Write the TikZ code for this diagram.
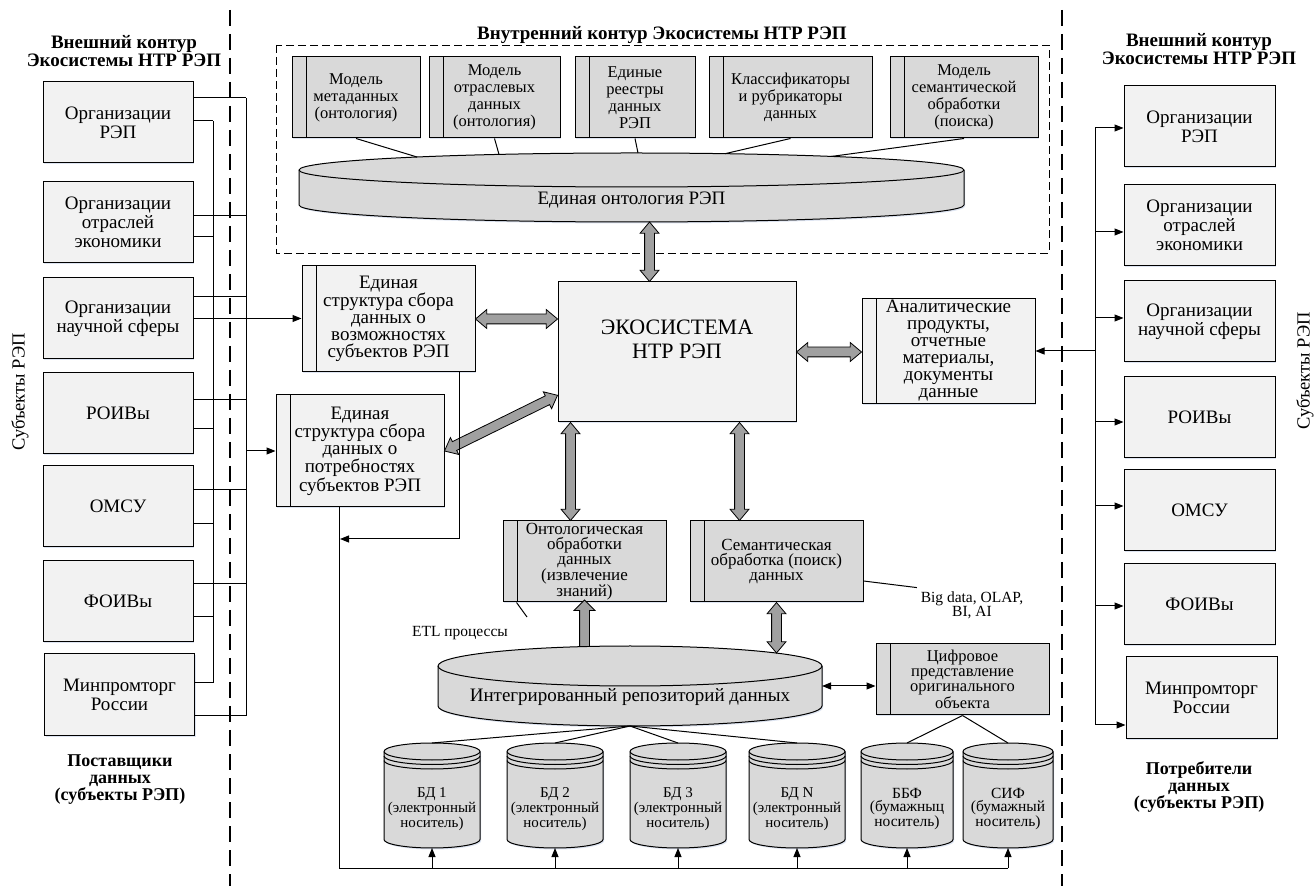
\documentclass[tikz,border=0pt]{standalone}
\usepackage{fontspec}
\setmainfont{Liberation Serif}
\usepackage{tikz}
\usetikzlibrary{arrows.meta}
\usetikzlibrary{calc}
\usetikzlibrary{shapes.arrows}
\usetikzlibrary{shadows}
\usetikzlibrary{backgrounds}
\definecolor{boxlight}{RGB}{242,242,242}
\definecolor{boxdark}{RGB}{217,217,217}
\definecolor{arrowfill}{RGB}{160,160,160}
\definecolor{glow}{RGB}{160,180,215}

\begin{document}
\begin{tikzpicture}[x=1pt,y=1pt,>={Triangle[length=9pt,width=7pt]},line width=1pt]
		\tikzstyle{shadowed}=[drop shadow={shadow xshift=1.2pt,shadow yshift=-1.5pt,opacity=.35,fill=glow}];
		\tikzstyle{subj}=[rectangle,draw,fill=boxlight,shadowed,minimum width=150pt,minimum height=81pt,
			inner sep=2pt,align=center,font=\fontsize{19}{19}\selectfont];
		\tikzstyle{striped}=[path picture={\draw[line width=1pt]([xshift=14pt]path picture bounding box.north west)--([xshift=14pt]path picture bounding box.south west);}];
		\tikzstyle{lightbox}=[rectangle,draw,fill=boxlight,shadowed,striped,inner sep=1pt,align=center,font=\fontsize{19}{17}\selectfont];
		\tikzstyle{darkbox}=[rectangle,draw,fill=boxdark,shadowed,striped,inner sep=1pt,align=center,font=\fontsize{17}{15}\selectfont];
		\tikzstyle{modelbox}=[darkbox,minimum height=81pt,font=\fontsize{16.5}{17}\selectfont];
		\tikzstyle{cylnode}=[rectangle,inner sep=0pt,outer sep=0pt];
		\tikzstyle{dbnode}=[cylnode,minimum width=96pt,minimum height=105pt];
		\tikzstyle{dbtext}=[align=center,font=\fontsize{15}{15}\selectfont,yshift=-13.5pt];
		\tikzstyle{papertext}=[align=center,font=\fontsize{15.5}{13}\selectfont,yshift=-13.5pt];
		\tikzstyle{cylfill}=[draw,fill=boxdark,line width=1pt,shadowed];
		\tikzstyle{cylline}=[line width=1pt];
		\tikzstyle{dbring}=[line width=1pt,x radius=48pt,y radius=8.5pt];
		\tikzstyle{fatarrow}=[double arrow,draw,fill=arrowfill,line width=.8pt,inner xsep=0pt,inner ysep=4.5pt,minimum width=18pt,
			double arrow head extend=4.5pt,double arrow tip angle=80];
		\tikzstyle{fatup}=[single arrow,draw,fill=arrowfill,line width=.8pt,inner xsep=0pt,inner ysep=4.5pt,minimum width=20pt,
			single arrow head extend=5.5pt,single arrow tip angle=90];
		\tikzstyle{headtext}=[align=center,font=\fontsize{19}{18}\selectfont\bfseries];
		\tikzstyle{borderline}=[dash pattern=on 16pt off 8pt,line width=1.3pt];

		\path[use as bounding box] (0,0) rectangle (1316,886);

		% contours
		\draw[borderline] (230,876) -- (230,0);
		\draw[borderline] (1062,876) -- (1062,0);
		\draw[dash pattern=on 8pt off 4pt,line width=.8pt] (276,841) rectangle (1049,633);
		\node[headtext] (innertitle) at (662,851) {Внутренний контур Экосистемы НТР РЭП};
		\node[headtext] (lefttitle) at (124,835) {Внешний контур\\Экосистемы НТР РЭП};
		\node[headtext] (righttitle) at (1199,837) {Внешний контур\\Экосистемы НТР РЭП};
		\node[headtext,font=\fontsize{18}{17}\selectfont\bfseries] (suppliers) at (120,106) {Поставщики\\данных\\(субъекты РЭП)};
		\node[headtext,font=\fontsize{18}{17}\selectfont\bfseries] (consumers) at (1199,99) {Потребители\\данных\\(субъекты РЭП)};
		\node[rotate=90,font=\fontsize{18.5}{18.5}\selectfont] (lsubj) at (20,494) {Субъекты РЭП};
		\node[rotate=90,font=\fontsize{18.5}{18.5}\selectfont] (rsubj) at (1305,515) {Субъекты РЭП};

		% suppliers
		\node[subj] (l1) at (118,763.5) {Организации\\РЭП};
		\node[subj,below of=l1,node distance=100pt] (l2) {Организации\\отраслей\\экономики};
		\node[subj,below of=l2,node distance=96pt] (l3) {Организации\\научной сферы};
		\node[subj,below of=l3,node distance=95pt] (l4) {РОИВы};
		\node[subj,below of=l4,node distance=93pt] (l5) {ОМСУ};
		\node[subj,below of=l5,node distance=95pt] (l6) {ФОИВы};
		\node[subj,below of=l6,node distance=93pt,xshift=1.5pt] (l7) {Минпромторг\\России};

		% consumers
		\node[subj,minimum width=151pt] (r1) at (1199.5,759.5) {Организации\\РЭП};
		\node[subj,minimum width=151pt,below of=r1,node distance=98.5pt] (r2) {Организации\\отраслей\\экономики};
		\node[subj,minimum width=151pt,below of=r2,node distance=96.5pt] (r3) {Организации\\научной сферы};
		\node[subj,minimum width=151pt,below of=r3,node distance=96pt] (r4) {РОИВы};
		\node[subj,minimum width=151pt,below of=r4,node distance=92.5pt] (r5) {ОМСУ};
		\node[subj,minimum width=151pt,below of=r5,node distance=94pt] (r6) {ФОИВы};
		\node[subj,minimum width=151pt,below of=r6,node distance=93.5pt,xshift=2pt] (r7) {Минпромторг\\России};

		% inner contour
		\node[modelbox,minimum width=128pt] (m1) at (356,788.5) {Модель\\метаданных\\(онтология)};
		\node[modelbox,minimum width=131pt] (m2) at (494.5,788.5) {Модель\\отраслевых\\данных\\(онтология)};
		\node[modelbox,minimum width=120pt] (m3) at (635,788.5) {Единые\\реестры\\данных\\РЭП};
		\node[modelbox,minimum width=163pt] (m4) at (790.5,788.5) {Классификаторы\\и рубрикаторы\\данных};
		\node[modelbox,minimum width=148pt] (m5) at (964,788.5) {Модель\\семантической\\обработки\\(поиска)};
		\node[cylnode,minimum width=665pt,minimum height=69pt,
			label={[font=\fontsize{19}{19}\selectfont,yshift=-12.5pt]center:Единая онтология РЭП}] (onto) at (631.5,698.5) {};
		\draw (m1.south) -- ($(onto.north)+(-214.5,-4)$);
		\draw (m2.south) -- ($(onto.north)+(-132.5,-1.4)$);
		\draw (m3.south) -- ($(onto.north)+(6.5,0)$);
		\draw (m4.south) -- ($(onto.north)+(93.5,-.7)$);
		\draw (m5.south) -- ($(onto.north)+(199.5,-3.5)$);

		% core
		\node[lightbox,minimum width=173pt,minimum height=106pt] (vozm) at (388.5,567) {Единая\\структура сбора\\данных о\\возможностях\\субъектов РЭП};
		\node[lightbox,minimum width=168pt,minimum height=112pt] (potr) at (360,435) {Единая\\структура сбора\\данных о\\потребностях\\субъектов РЭП};
		\node[rectangle,draw,fill=boxlight,shadowed,minimum width=238pt,minimum height=140pt,
			label={[font=\fontsize{22}{24}\selectfont,align=center,yshift=12.5pt]center:ЭКОСИСТЕМА\\НТР РЭП}] (eco) at (677,534) {};
		\node[lightbox,minimum width=173pt,minimum height=105pt] (anal) at (948.5,535) {Аналитические\\продукты,\\отчетные\\материалы,\\документы\\данные};
		\node[darkbox,minimum width=163pt,minimum height=81pt] (ont) at (584.5,324.5) {Онтологическая\\обработки\\данных\\(извлечение\\знаний)};
		\node[darkbox,minimum width=173pt,minimum height=81pt] (sem) at (776.5,324.5) {Семантическая\\обработка (поиск)\\данных};
		\node[cylnode,minimum width=384pt,minimum height=80pt,
			label={[font=\fontsize{19}{19}\selectfont,yshift=-11pt]center:Интегрированный репозиторий данных}] (repo) at (630,200) {};
		\node[darkbox,minimum width=173pt,minimum height=71pt,font=\fontsize{16.5}{15}\selectfont] (dig) at (962.5,206.5) {Цифровое\\представление\\оригинального\\объекта};
		\node[font=\fontsize{15.5}{14}\selectfont,align=center] (bigdata) at (972,281) {Big data, OLAP,\\BI, AI};
		\node[font=\fontsize{15.5}{15}\selectfont] (etl) at (460,253) {ETL процессы};
		\coordinate (etlend) at (527,269);
		\draw ([yshift=-19.5pt]sem.east) -- (bigdata.north west);
		\draw ([xshift=14pt]ont.south west) -- (etlend);

		% storages
		\node[dbnode,label={[dbtext]center:БД 1\\(электронный\\носитель)}] (bd1) at (432,90.5) {};
		\node[dbnode,label={[dbtext]center:БД 2\\(электронный\\носитель)}] (bd2) at (555,90.5) {};
		\node[dbnode,label={[dbtext]center:БД 3\\(электронный\\носитель)}] (bd3) at (678,90.5) {};
		\node[dbnode,label={[dbtext]center:БД N\\(электронный\\носитель)}] (bdn) at (797,90.5) {};
		\node[dbnode,minimum width=92pt,label={[papertext]center:ББФ\\(бумажныц\\носитель)}] (bbf) at (907,90.5) {};
		\node[dbnode,minimum width=90pt,label={[papertext]center:СИФ\\(бумажный\\носитель)}] (sif) at (1008,90.5) {};
		\draw (repo.south) -- (bd1.north);
		\draw (repo.south) -- (bd2.north);
		\draw (repo.south) -- (bd3.north);
		\draw (repo.south) -- (bdn.north);
		\draw (dig.south) -- (bbf.north);
		\draw (dig.south) -- (sif.north);
		\draw[<->] (repo.east) -- (repo.east -| dig.west);

		% fat arrows
		\coordinate (fa1a) at ($(eco.north west)!.385!(eco.north east)$);
		\coordinate (fa1b) at (fa1a |- onto.south);
		\coordinate (fa2a) at (vozm.east);
		\coordinate (fa2b) at (vozm.east -| eco.west);
		\coordinate (fa3a) at (eco.east);
		\coordinate (fa3b) at (eco.east -| anal.west);
		\coordinate (fa4a) at (potr.east);
		\coordinate (fa4b) at ($(eco.north west)!.807!(eco.south west)$);
		\coordinate (fa5a) at ([xshift=13pt]eco.south west);
		\coordinate (fa5b) at (fa5a |- ont.north);
		\coordinate (fa6a) at ([xshift=-57pt]eco.south east);
		\coordinate (fa6b) at (fa6a |- sem.north);
		\coordinate (fa7a) at (sem.south);
		\coordinate (fa7b) at ($(sem.south |- repo.north)+(0,-7)$);
		\coordinate (fa8a) at ($(ont.south |- repo.north)+(0,-3)$);
		\path let \p1=($(fa1b)-(fa1a)$),\n1={veclen(\x1,\y1)},\n2={atan2(\y1,\x1)} in node[fatarrow,minimum height=\n1,rotate=\n2] at ($(fa1a)!.5!(fa1b)$) {};
		\path let \p1=($(fa2b)-(fa2a)$),\n1={veclen(\x1,\y1)},\n2={atan2(\y1,\x1)} in node[fatarrow,minimum height=\n1,rotate=\n2] at ($(fa2a)!.5!(fa2b)$) {};
		\path let \p1=($(fa3b)-(fa3a)$),\n1={veclen(\x1,\y1)},\n2={atan2(\y1,\x1)} in node[fatarrow,minimum height=\n1,rotate=\n2] at ($(fa3a)!.5!(fa3b)$) {};
		\path let \p1=($(fa4b)-(fa4a)$),\n1={veclen(\x1,\y1)},\n2={atan2(\y1,\x1)} in node[fatarrow,minimum height=\n1,rotate=\n2] at ($(fa4a)!.5!(fa4b)$) {};
		\path let \p1=($(fa5b)-(fa5a)$),\n1={veclen(\x1,\y1)},\n2={atan2(\y1,\x1)} in node[fatarrow,minimum height=\n1,rotate=\n2] at ($(fa5a)!.5!(fa5b)$) {};
		\path let \p1=($(fa6b)-(fa6a)$),\n1={veclen(\x1,\y1)},\n2={atan2(\y1,\x1)} in node[fatarrow,minimum height=\n1,rotate=\n2] at ($(fa6a)!.5!(fa6b)$) {};
		\path let \p1=($(fa7b)-(fa7a)$),\n1={veclen(\x1,\y1)},\n2={atan2(\y1,\x1)} in node[fatarrow,minimum height=\n1,rotate=\n2] at ($(fa7a)!.5!(fa7b)$) {};
		\path let \p1=($(ont.south)-(fa8a)$),\n1={veclen(\x1,\y1)} in node[fatup,minimum height=\n1,rotate=90] at ($(fa8a)!.5!(ont.south)$) {};

		% left buses
		\coordinate (ob) at (246,788);
		\coordinate (obe) at (246,170);
		\coordinate (ib) at (213,765);
		\coordinate (ibe) at (213,203);
		\draw (ob) -- (obe);
		\draw (ib) -- (ibe);
		\draw ([yshift=24.5pt]l1.east) -- (ob);
		\draw ([yshift=1.5pt]l1.east) -- (ib);
		\draw ([yshift=6.5pt]l2.east) -- ([yshift=6.5pt]l2.east -| ob);
		\draw ([yshift=-14.5pt]l2.east) -- ([yshift=-14.5pt]l2.east -| ib);
		\draw ([yshift=21.5pt]l3.east) -- ([yshift=21.5pt]l3.east -| ob);
		\draw[->] (l3.east) -- (l3.east -| vozm.west);
		\draw ([yshift=13.5pt]l4.east) -- ([yshift=13.5pt]l4.east -| ob);
		\draw ([yshift=-15.5pt]l4.east) -- ([yshift=-15.5pt]l4.east -| ib);
		\draw ([yshift=16.5pt]l5.east) -- ([yshift=16.5pt]l5.east -| ob);
		\draw ([yshift=-17.5pt]l5.east) -- ([yshift=-17.5pt]l5.east -| ib);
		\draw ([yshift=17.5pt]l6.east) -- ([yshift=17.5pt]l6.east -| ob);
		\draw ([yshift=-15.5pt]l6.east) -- ([yshift=-15.5pt]l6.east -| ib);
		\draw ([yshift=11.5pt]l7.east) -- (ibe);
		\draw ([yshift=-21.5pt]l7.east) -- (obe);
		\draw[->] (potr.west -| ob) -- (potr.west);

		% bottom bus
		\coordinate (busr) at (1008,18);
		\coordinate (busm) at (340,347);
		\draw ([xshift=64pt]potr.south west) |- (busr);
		\draw[->] ([xshift=-16pt]vozm.south east) |- (busm);
		\draw[->] (bd1.south |- busr) -- (bd1.south);
		\draw[->] (bd2.south |- busr) -- (bd2.south);
		\draw[->] (bd3.south |- busr) -- (bd3.south);
		\draw[->] (bdn.south |- busr) -- (bdn.south);
		\draw[->] (bbf.south |- busr) -- (bbf.south);
		\draw[->] (sif.south |- busr) -- (sif.south);

		% right bus
		\coordinate (rb) at (1095,758);
		\coordinate (rbe) at (1095,161);
		\draw (rb) -- (rbe);
		\draw[->] (rb) -- (rb -| r1.west);
		\draw[->] ([yshift=-7pt]r2.west -| rb) -- ([yshift=-7pt]r2.west);
		\draw[->] ([yshift=3.5pt]r3.west -| rb) -- ([yshift=3.5pt]r3.west);
		\draw[->] ([yshift=-4.5pt]r4.west -| rb) -- ([yshift=-4.5pt]r4.west);
		\draw[->] ([yshift=4pt]r5.west -| rb) -- ([yshift=4pt]r5.west);
		\draw[->] ([yshift=-2pt]r6.west -| rb) -- ([yshift=-2pt]r6.west);
		\draw[->] (rbe) -- (rbe -| r7.west);
		\draw[->] (anal.east -| rb) -- (anal.east);

		% cylinders behind their labels
		\begin{pgfonlayer}{background}
			\fill[white] (0,0) rectangle (1316,886);
			\filldraw[cylfill,x radius=332.5pt,y radius=17pt] ([yshift=-17pt]onto.north west) -- ([yshift=17pt]onto.south west) arc[start angle=180,end angle=360] -- ([yshift=-17pt]onto.north east) arc[start angle=0,end angle=180] -- cycle;
			\draw[cylline,x radius=332.5pt,y radius=17pt] ([yshift=-17pt]onto.north west) arc[start angle=180,end angle=360];
			\filldraw[cylfill,x radius=192pt,y radius=20pt] ([yshift=-20pt]repo.north west) -- ([yshift=20pt]repo.south west) arc[start angle=180,end angle=360] -- ([yshift=-20pt]repo.north east) arc[start angle=0,end angle=180] -- cycle;
			\draw[cylline,x radius=192pt,y radius=20pt] ([yshift=-20pt]repo.north west) arc[start angle=180,end angle=360];
			\filldraw[cylfill,dbring] ([yshift=-8.5pt]bd1.north west) -- ([yshift=8.5pt]bd1.south west) arc[start angle=180,end angle=360] -- ([yshift=-8.5pt]bd1.north east) arc[start angle=0,end angle=180] -- cycle;
			\draw[dbring] ([yshift=-8.5pt]bd1.north west) arc[start angle=180,end angle=360] ([yshift=-13pt]bd1.north west) arc[start angle=180,end angle=360] ([yshift=-17.5pt]bd1.north west) arc[start angle=180,end angle=360];
			\filldraw[cylfill,dbring] ([yshift=-8.5pt]bd2.north west) -- ([yshift=8.5pt]bd2.south west) arc[start angle=180,end angle=360] -- ([yshift=-8.5pt]bd2.north east) arc[start angle=0,end angle=180] -- cycle;
			\draw[dbring] ([yshift=-8.5pt]bd2.north west) arc[start angle=180,end angle=360] ([yshift=-13pt]bd2.north west) arc[start angle=180,end angle=360] ([yshift=-17.5pt]bd2.north west) arc[start angle=180,end angle=360];
			\filldraw[cylfill,dbring] ([yshift=-8.5pt]bd3.north west) -- ([yshift=8.5pt]bd3.south west) arc[start angle=180,end angle=360] -- ([yshift=-8.5pt]bd3.north east) arc[start angle=0,end angle=180] -- cycle;
			\draw[dbring] ([yshift=-8.5pt]bd3.north west) arc[start angle=180,end angle=360] ([yshift=-13pt]bd3.north west) arc[start angle=180,end angle=360] ([yshift=-17.5pt]bd3.north west) arc[start angle=180,end angle=360];
			\filldraw[cylfill,dbring] ([yshift=-8.5pt]bdn.north west) -- ([yshift=8.5pt]bdn.south west) arc[start angle=180,end angle=360] -- ([yshift=-8.5pt]bdn.north east) arc[start angle=0,end angle=180] -- cycle;
			\draw[dbring] ([yshift=-8.5pt]bdn.north west) arc[start angle=180,end angle=360] ([yshift=-13pt]bdn.north west) arc[start angle=180,end angle=360] ([yshift=-17.5pt]bdn.north west) arc[start angle=180,end angle=360];
			\filldraw[cylfill,dbring,x radius=46pt] ([yshift=-8.5pt]bbf.north west) -- ([yshift=8.5pt]bbf.south west) arc[start angle=180,end angle=360] -- ([yshift=-8.5pt]bbf.north east) arc[start angle=0,end angle=180] -- cycle;
			\draw[dbring,x radius=46pt] ([yshift=-8.5pt]bbf.north west) arc[start angle=180,end angle=360] ([yshift=-13pt]bbf.north west) arc[start angle=180,end angle=360] ([yshift=-17.5pt]bbf.north west) arc[start angle=180,end angle=360];
			\filldraw[cylfill,dbring,x radius=45pt] ([yshift=-8.5pt]sif.north west) -- ([yshift=8.5pt]sif.south west) arc[start angle=180,end angle=360] -- ([yshift=-8.5pt]sif.north east) arc[start angle=0,end angle=180] -- cycle;
			\draw[dbring,x radius=45pt] ([yshift=-8.5pt]sif.north west) arc[start angle=180,end angle=360] ([yshift=-13pt]sif.north west) arc[start angle=180,end angle=360] ([yshift=-17.5pt]sif.north west) arc[start angle=180,end angle=360];
		\end{pgfonlayer}
	\end{tikzpicture}
\end{document}
